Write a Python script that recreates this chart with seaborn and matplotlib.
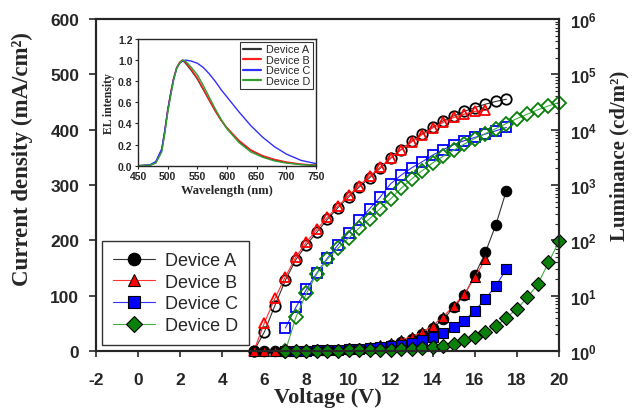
import numpy as np
import matplotlib
matplotlib.use("Agg")
import matplotlib.pyplot as plt
from matplotlib.lines import Line2D
from matplotlib.ticker import LogLocator, NullFormatter
import seaborn as sns

# voltage grid (V)
voltage = [5.5, 6.0, 6.5, 7.0, 7.5, 8.0, 8.5, 9.0, 9.5, 10.0, 10.5, 11.0, 11.5, 12.0,
           12.5, 13.0, 13.5, 14.0, 14.5, 15.0, 15.5, 16.0, 16.5, 17.0, 17.5, 18.0,
           18.5, 19.0, 19.5, 20.0]

devices = ["Device A", "Device B", "Device C", "Device D"]

# current density (mA/cm2)
j_a = [0, 0, 0, 0.3, 0.5, 0.8, 1.1, 1.5, 2, 2.7, 3.6, 5, 7, 11.5, 16, 22, 30, 42, 57,
       79, 101, 137, 178, 228, 290]
j_b = [0, 0, 0, 0.4, 0.8, 1.2, 1.7, 2.3, 3, 4, 5.5, 8, 11, 15, 20, 26, 34, 46, 62, 82,
       103, 133, 166]
j_c = [0, 0.3, 0.6, 1, 1.4, 2, 2.8, 3.8, 5, 6.5, 8.5, 11, 14.5, 19, 25, 33, 43, 55, 73,
       94, 118, 148]
j_d = [0, 0.1, 0.2, 0.4, 0.6, 0.8, 1, 1.3, 1.7, 2.1, 2.6, 3.2, 4, 5, 6.6, 9.5, 13, 19,
       26, 34, 45, 60, 76, 97, 121, 160, 198]

# luminance (cd/m2)
lum_a = [1, 2.2, 6.6, 19, 45, 83, 141, 240, 389, 603, 912, 1349, 1995, 3020, 4365,
         6166, 8511, 11220, 14450, 17780, 21380, 25120, 28840, 32360, 35480]
lum_b = [1, 3.2, 8.9, 22, 50, 93, 158, 263, 417, 646, 977, 1445, 2089, 3090, 4365,
         6026, 8128, 10720, 13490, 16600, 19050, 21380, 22390]
lum_c = [2.6, 6.2, 13, 26, 48, 83, 138, 229, 372, 603, 1050, 1510, 2040, 2630, 3467,
         4365, 5370, 6310, 7244, 8318, 9550, 10960]
lum_d = [1, 4.1, 11, 25, 46, 72, 110, 166, 245, 372, 562, 871, 1288, 1820, 2512, 3311,
         4266, 5495, 6918, 8511, 10470, 12880, 15850, 19050, 22910, 26920, 30900]

# EL spectra (inset)
wavelength = [450, 470, 480, 490, 495, 500, 505, 510, 515, 520, 525, 530, 540, 550, 560,
              570, 580, 590, 600, 620, 640, 660, 680, 700, 725, 750]
el_a = [0.0, 0.005, 0.03, 0.15, 0.32, 0.52, 0.68, 0.82, 0.92, 0.97, 1.0, 0.97, 0.90, 0.82,
        0.72, 0.62, 0.52, 0.43, 0.35, 0.23, 0.145, 0.09, 0.055, 0.03, 0.012, 0.004]
el_b = [0.0, 0.005, 0.03, 0.15, 0.32, 0.53, 0.69, 0.83, 0.93, 0.98, 1.0, 0.98, 0.91, 0.83,
        0.73, 0.62, 0.52, 0.43, 0.36, 0.24, 0.15, 0.095, 0.06, 0.035, 0.015, 0.005]
el_c = [0.0, 0.008, 0.04, 0.16, 0.33, 0.52, 0.68, 0.82, 0.92, 0.97, 0.99, 1.0, 0.99, 0.97,
        0.93, 0.87, 0.80, 0.72, 0.65, 0.51, 0.38, 0.27, 0.18, 0.11, 0.05, 0.02]
el_d = [0.0, 0.004, 0.025, 0.13, 0.30, 0.50, 0.66, 0.81, 0.92, 0.97, 1.0, 0.99, 0.93, 0.86,
        0.76, 0.65, 0.54, 0.44, 0.35, 0.22, 0.13, 0.08, 0.045, 0.025, 0.01, 0.003]

sns.set_style("ticks")
plt.rcParams["font.family"] = ["Liberation Sans", "DejaVu Sans"]
plt.rcParams["axes.unicode_minus"] = False
plt.rcParams["mathtext.fontset"] = "custom"
plt.rcParams["mathtext.bf"] = "Liberation Sans:bold"
plt.rcParams["mathtext.rm"] = "Liberation Sans"
serif = ["Liberation Serif", "DejaVu Serif"]

# (voltage slice, J, L, marker, face, line colour)
series = [
    (voltage[0:25], j_a, lum_a, "o", "black", "#333333"),
    (voltage[0:23], j_b, lum_b, "^", "#ff0000", "#ff3030"),
    (voltage[3:25], j_c, lum_c, "s", "#0000ff", "#3030ff"),
    (voltage[3:30], j_d, lum_d, "D", "#0a800a", "#40b040"),
]

fig = plt.figure(figsize=(6.34, 4.14), dpi=100)
ax = fig.add_axes([0.1514, 0.1498, 0.7303, 0.8019])
ax2 = ax.twinx()
ax2.set_yscale("log")

# luminance: open markers on the right axis
for v, j, lum, mk, col, lcol in series:
    sns.lineplot(x=v, y=lum, ax=ax2, color=lcol, linewidth=0.8, marker=mk,
                 markersize=7.5 if mk != "D" else 6.8, markerfacecolor="none",
                 markeredgecolor=col, markeredgewidth=1.3, errorbar=None,
                 sort=False, clip_on=False, legend=False)

# current density: filled markers on the left axis
for v, j, lum, mk, col, lcol in series:
    sns.lineplot(x=v, y=j, ax=ax, color=lcol, linewidth=0.8, marker=mk,
                 markersize=7.5 if mk != "D" else 6.8, markerfacecolor=col,
                 markeredgecolor="black", markeredgewidth=0.8, errorbar=None,
                 sort=False, clip_on=False, legend=False)

ax.set_zorder(ax2.get_zorder() + 1)
ax.patch.set_visible(False)

ax.set_xlim(-2, 20)
ax.set_ylim(0, 600)
ax.set_xticks(range(-2, 21, 2))
ax.set_yticks(range(0, 601, 100))
ax2.set_ylim(1, 1e6)
ax2.set_yticks([1, 10, 100, 1e3, 1e4, 1e5, 1e6])
ax2.set_yticklabels([r"$\mathbf{10^{%d}}$" % k for k in range(7)])
ax2.yaxis.set_minor_locator(LogLocator(base=10, subs=np.arange(2, 10), numticks=20))
ax2.yaxis.set_minor_formatter(NullFormatter())

for lab in ax.get_xticklabels() + ax.get_yticklabels():
    lab.set_fontweight("bold")
ax.tick_params(axis="x", direction="out", length=4, width=1.2, pad=11, labelsize=12.5)
ax.tick_params(axis="y", direction="out", length=5, width=1.2, pad=7, labelsize=12.5)
ax2.tick_params(axis="y", which="major", direction="in", length=6, width=1.2, pad=8,
                labelsize=12)
ax2.tick_params(axis="y", which="minor", direction="in", length=3, width=0.8)

for sp in ["left", "right", "top", "bottom"]:
    ax.spines[sp].set_linewidth(1.5)
    ax2.spines[sp].set_linewidth(1.5)

ax.set_xlabel("Voltage (V)", fontfamily=serif, fontweight="bold", fontsize=16, labelpad=0)
ax.set_ylabel("Current density (mA/cm²)", fontfamily=serif, fontweight="bold",
              fontsize=16.5, labelpad=4)
ax.yaxis.set_label_coords(-0.135, 0.58)
ax2.set_ylabel("Luminance (cd/m²)", fontfamily=serif, fontweight="bold", fontsize=15,
               rotation=90, labelpad=4)
ax2.yaxis.set_label_coords(1.11, 0.59)

handles = []
for (v, j, lum, mk, col, lcol), name in zip(series, devices):
    handles.append(Line2D([], [], color=lcol, linewidth=0.8, marker=mk,
                          markersize=9 if mk != "D" else 8.2, markerfacecolor=col,
                          markeredgecolor="black", markeredgewidth=0.8, label=name))
leg = ax.legend(handles=handles, loc="lower left", fontsize=13, frameon=True,
                fancybox=False, edgecolor="black", handlelength=2.3,
                handletextpad=0.55, labelspacing=0.25, borderpad=0.6,
                borderaxespad=0.35)
leg.get_frame().set_linewidth(1.0)

# inset: EL spectra
ins = fig.add_axes([0.2177, 0.5973, 0.2808, 0.3062])
ins.set_zorder(ax.get_zorder() + 1)
el_colors = ["#333333", "#ff2020", "#3030ff", "#30a030"]
for el, col, name in zip([el_a, el_b, el_c, el_d], el_colors, devices):
    sns.lineplot(x=wavelength, y=el, ax=ins, color=col, linewidth=1.0, label=name,
                 errorbar=None, sort=False)
ins.set_xlim(450, 750)
ins.set_ylim(0, 1.2)
ins.set_xticks(range(450, 751, 50))
ins.set_yticks([0.0, 0.2, 0.4, 0.6, 0.8, 1.0, 1.2])
ins.set_yticklabels(["0.0", "0.2", "0.4", "0.6", "0.8", "1.0", "1.2"])
for lab in ins.get_xticklabels() + ins.get_yticklabels():
    lab.set_fontweight("bold")
ins.tick_params(direction="out", length=2, width=0.8, pad=2, labelsize=7.5)
for sp in ins.spines.values():
    sp.set_linewidth(1.0)
ins.set_xlabel("Wavelength (nm)", fontfamily=serif, fontweight="bold", fontsize=9,
               labelpad=2)
ins.set_ylabel("EL intensity", fontfamily=serif, fontweight="bold", fontsize=8.5,
               labelpad=2)
il = ins.legend(loc="upper right", fontsize=7.8, frameon=True, fancybox=False,
                edgecolor="black", handlelength=1.7, handletextpad=0.5,
                labelspacing=0.05, borderpad=0.25, borderaxespad=0.25)
il.get_frame().set_linewidth(0.8)
for ln in il.get_lines():
    ln.set_linewidth(1.6)

fig.savefig("out.png", dpi=100)
